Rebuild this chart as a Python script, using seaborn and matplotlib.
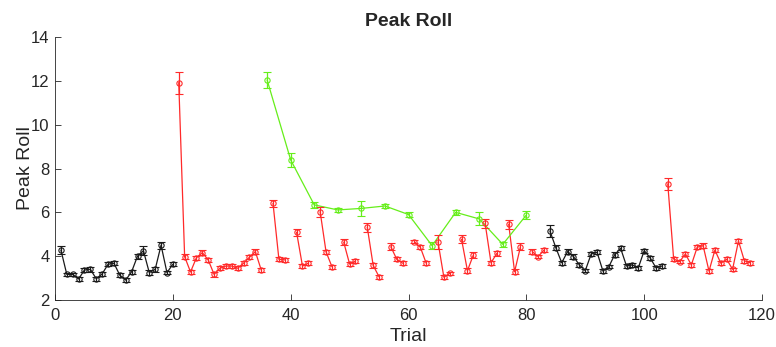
import numpy as np
import pandas as pd
import matplotlib
matplotlib.use("Agg")
import matplotlib.pyplot as plt
import seaborn as sns

# ---- data ----
black_a_x = list(range(1, 21))
black_a_y = [4.28, 3.17, 3.17, 2.96, 3.37, 3.40, 2.97, 3.19, 3.63, 3.68,
             3.13, 2.91, 3.29, 4.00, 4.25, 3.25, 3.40, 4.50, 3.25, 3.63]
black_a_e = [0.20, 0.08, 0.08, 0.08, 0.10, 0.10, 0.08, 0.08, 0.10, 0.10,
             0.08, 0.08, 0.10, 0.12, 0.20, 0.10, 0.10, 0.15, 0.08, 0.10]

red_a_x = list(range(21, 36))
red_a_y = [11.92, 3.98, 3.28, 3.93, 4.16, 3.83, 3.17, 3.45, 3.55, 3.55,
           3.45, 3.68, 3.95, 4.21, 3.37]
red_a_e = [0.50, 0.10, 0.10, 0.10, 0.10, 0.10, 0.10, 0.10, 0.10, 0.10,
           0.10, 0.10, 0.10, 0.12, 0.08]

red_b_starts = [37, 41, 45, 49, 53, 57, 61, 65, 69, 73, 77, 81]
red_b_y = [[6.41, 3.86, 3.83], [5.09, 3.55, 3.68], [6.03, 4.20, 3.52],
           [4.64, 3.64, 3.78], [5.32, 3.58, 3.06], [4.43, 3.86, 3.68],
           [4.66, 4.41, 3.68], [4.65, 3.04, 3.22], [4.77, 3.34, 4.05],
           [5.50, 3.70, 4.13], [5.46, 3.29, 4.43], [4.21, 3.98, 4.28]]
red_b_e = [[0.15, 0.08, 0.08], [0.15, 0.08, 0.08], [0.22, 0.10, 0.10],
           [0.15, 0.08, 0.08], [0.20, 0.10, 0.10], [0.15, 0.10, 0.08],
           [0.08, 0.10, 0.08], [0.30, 0.08, 0.08], [0.18, 0.10, 0.15],
           [0.20, 0.10, 0.10], [0.20, 0.12, 0.15], [0.10, 0.08, 0.10]]

green_x = [36, 40, 44, 48, 52, 56, 60, 64, 68, 72, 76, 80]
green_y = [12.04, 8.39, 6.34, 6.11, 6.18, 6.29, 5.90, 4.48, 6.00, 5.70, 4.54, 5.88]
green_e = [0.38, 0.33, 0.12, 0.10, 0.34, 0.08, 0.10, 0.15, 0.12, 0.30, 0.10, 0.20]

black_b_x = list(range(84, 104))
black_b_y = [5.15, 4.39, 3.70, 4.21, 3.98, 3.60, 3.34, 4.10, 4.18, 3.32,
             3.52, 4.07, 4.36, 3.55, 3.60, 3.47, 4.25, 3.93, 3.47, 3.55]
black_b_e = [0.27, 0.10, 0.10, 0.10, 0.10, 0.10, 0.08, 0.10, 0.10, 0.08,
             0.08, 0.10, 0.10, 0.08, 0.08, 0.08, 0.10, 0.10, 0.08, 0.08]

red_c_x = list(range(104, 119))
red_c_y = [7.30, 3.87, 3.75, 4.10, 3.60, 4.41, 4.48, 3.32, 4.28, 3.68,
           3.86, 3.40, 4.69, 3.79, 3.70]
red_c_e = [0.27, 0.08, 0.08, 0.10, 0.10, 0.10, 0.10, 0.08, 0.10, 0.10,
           0.08, 0.08, 0.10, 0.08, 0.08]

x_ticks = [0, 20, 40, 60, 80, 100, 120]
y_ticks = [2, 4, 6, 8, 10, 12, 14]

# ---- assemble a long table ----
rows = []
def add(xs, ys, es, group, seg):
    for x, y, e in zip(xs, ys, es):
        rows.append(dict(trial=x, roll=y, err=e, group=group, seg=seg))

add(black_a_x, black_a_y, black_a_e, "black", "k1")
add(red_a_x, red_a_y, red_a_e, "red", "r0")
for i, (s, ys, es) in enumerate(zip(red_b_starts, red_b_y, red_b_e)):
    add(list(range(s, s + len(ys))), ys, es, "red", f"r{i+1}")
add(green_x, green_y, green_e, "green", "g")
add(black_b_x, black_b_y, black_b_e, "black", "k2")
add(red_c_x, red_c_y, red_c_e, "red", "r99")
df = pd.DataFrame(rows)

palette = {"black": "#1a1a1a", "red": "#ff2a2a", "green": "#66ee1a"}

sns.set_style("ticks")
plt.rcParams["font.family"] = ["Liberation Sans", "DejaVu Sans"]

fig = plt.figure(figsize=(7.76, 3.47), dpi=100)
ax = fig.add_axes([0.0709, 0.1354, 0.9111, 0.758])

sns.lineplot(data=df, x="trial", y="roll", hue="group", units="seg",
             estimator=None, palette=palette, linewidth=0.9, legend=False,
             sort=True, ax=ax)

for g, sub in df.groupby("group"):
    ax.errorbar(sub["trial"], sub["roll"], yerr=sub["err"], fmt="o",
                ms=3.8, mfc="none", mec=palette[g], mew=0.8,
                ecolor=palette[g], elinewidth=0.9, capsize=2.6,
                capthick=0.9, linestyle="none", zorder=3)

ax.set_xlim(0, 120)
ax.set_ylim(2, 14)
ax.set_xticks(x_ticks)
ax.set_yticks(y_ticks)
ax.tick_params(direction="in", length=4, width=0.6, colors="#262626",
               labelsize=12, bottom=True, left=True)
ax.tick_params(axis="x", pad=6)
ax.tick_params(axis="y", pad=4)
for s in ["top", "right"]:
    ax.spines[s].set_visible(False)
for s in ["left", "bottom"]:
    ax.spines[s].set_color("#262626")
    ax.spines[s].set_linewidth(0.6)

ax.set_xlabel("Trial", fontsize=14, color="#262626", labelpad=3)
ax.set_ylabel("Peak Roll", fontsize=14, color="#262626")
ax.yaxis.set_label_coords(-0.03, 0.5)
ax.set_title("Peak Roll", fontsize=14, fontweight="bold", pad=8)

fig.savefig("out.png", dpi=100)
